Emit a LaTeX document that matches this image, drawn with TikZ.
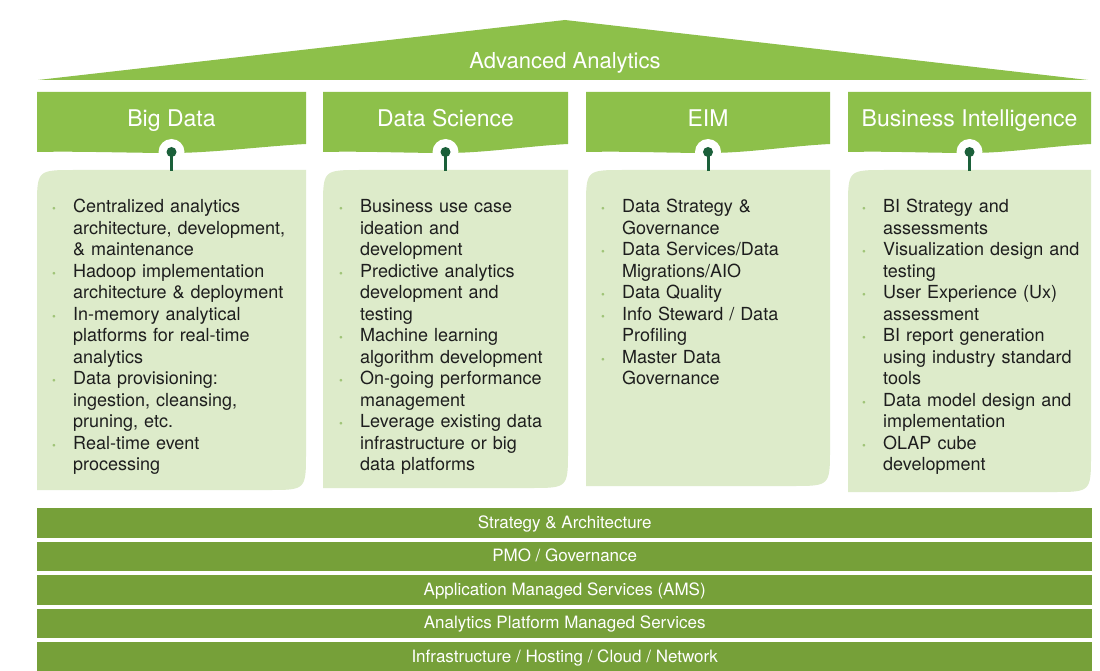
\documentclass[tikz,border=0pt]{standalone}
\usepackage{fontspec}
\setmainfont{TeX Gyre Heros}
\usepackage{enumitem}
\usetikzlibrary{positioning}

\definecolor{headgreen}{RGB}{141,192,74}
\definecolor{bandgreen}{RGB}{118,160,57}
\definecolor{bodygreen}{RGB}{221,235,202}
\definecolor{pingreen}{RGB}{27,96,58}
\definecolor{dotgreen}{RGB}{160,196,120}
\definecolor{inkgray}{RGB}{30,30,30}

\setlist[itemize]{nosep, leftmargin=21pt, labelwidth=21pt, labelsep=0pt, align=left,
  label={\color{dotgreen}\fontsize{11}{11}\selectfont\textbullet}}

% one column: #1 name, #2 left, #3 right, #4 bottom of body, #5 title
\newcommand{\pillar}[5]{%
  \pgfmathsetmacro{\pinx}{(#2+#3)/2}
  \fill[head] (#2,92) -- (#3,92) -- (#3,144)
    .. controls ({#3-40},146) and ({\pinx+40},153) .. (\pinx,153)
    .. controls ({\pinx-40},153) and ({#2+40},151) .. (#2,152) -- cycle;
  \fill[notch] (\pinx,152) circle[radius=13];
  \fill[body] (#2,#4) -- (#2,208) .. controls (#2,170) .. ({#2+38},170)
    -- (#3,170) -- (#3,{#4-38}) .. controls (#3,#4) .. ({#3-38},#4) -- cycle;
  \draw[stem] (\pinx,152) -- (\pinx,171);
  \fill[pin] (\pinx,152) circle[radius=5];
  \node[headtext] (#1) at (\pinx,127) {#5};
}

\begin{document}
\begin{tikzpicture}[x=1pt, y=-1pt]
	\tikzset{
		head/.style={fill=headgreen},
		body/.style={fill=bodygreen},
		notch/.style={fill=white},
		stem/.style={draw=pingreen, line width=3pt},
		pin/.style={fill=pingreen},
		headtext/.style={anchor=base, text=white, font=\fontsize{23}{26}\selectfont},
		rooftext/.style={anchor=base, text=white, font=\fontsize{22}{25}\selectfont},
		items/.style={anchor=north west, inner sep=0pt, align=left, text=inkgray,
			font=\fontsize{18}{21.5}\selectfont},
		band/.style={anchor=north west, fill=bandgreen, text=white, inner sep=0pt,
			minimum width=1055pt, minimum height=29.5pt, text height=14pt, text depth=3pt,
			font=\fontsize{17}{20}\selectfont}
	}
	\useasboundingbox[fill=white] (0,0) rectangle (1100,671);

	% roof
	\fill[head] (38,80) -- (565,20) -- (1088,80) -- cycle;
	\node[rooftext] (roof) at (565,69) {Advanced Analytics};

	% columns
	\pillar{bigdata}{37}{306}{490}{Big Data}
	\pillar{science}{323}{568}{488}{Data Science}
	\pillar{eim}{586}{830}{486}{EIM}
	\pillar{bi}{848}{1091}{492}{Business Intelligence}

	\node[items, text width=240pt] (bigdata-items) at (52,191) {%
		\begin{itemize}
			\item Centralized analytics\newline architecture, development,\newline \& maintenance
			\item Hadoop implementation\newline architecture \& deployment
			\item In-memory analytical\newline platforms for real-time\newline analytics
			\item Data provisioning:\newline ingestion, cleansing,\newline pruning, etc.
			\item Real-time event\newline processing
		\end{itemize}};
	\node[items, text width=222pt] (science-items) at (339,191) {%
		\begin{itemize}
			\item Business use case\newline ideation and\newline development
			\item Predictive analytics\newline development and\newline testing
			\item Machine learning\newline algorithm development
			\item On-going performance\newline management
			\item Leverage existing data\newline infrastructure or big\newline data platforms
		\end{itemize}};
	\node[items, text width=222pt] (eim-items) at (601,191) {%
		\begin{itemize}
			\item Data Strategy \&\newline Governance
			\item Data Services/Data\newline Migrations/AIO
			\item Data Quality
			\item Info Steward / Data\newline Profiling
			\item Master Data\newline Governance
		\end{itemize}};
	\node[items, text width=222pt] (bi-items) at (862,191) {%
		\begin{itemize}
			\item BI Strategy and\newline assessments
			\item Visualization design and\newline testing
			\item User Experience (Ux)\newline assessment
			\item BI report generation\newline using industry standard\newline tools
			\item Data model design and\newline implementation
			\item OLAP cube\newline development
		\end{itemize}};

	% service bands
	\foreach \lbl [count=\i from 0] in {Strategy \& Architecture, PMO / Governance,
		Application Managed Services (AMS), Analytics Platform Managed Services,
		Infrastructure / Hosting / Cloud / Network}
		\node[band] (band\i) at (37,{508+33.5*\i}) {\lbl};
\end{tikzpicture}
\end{document}
